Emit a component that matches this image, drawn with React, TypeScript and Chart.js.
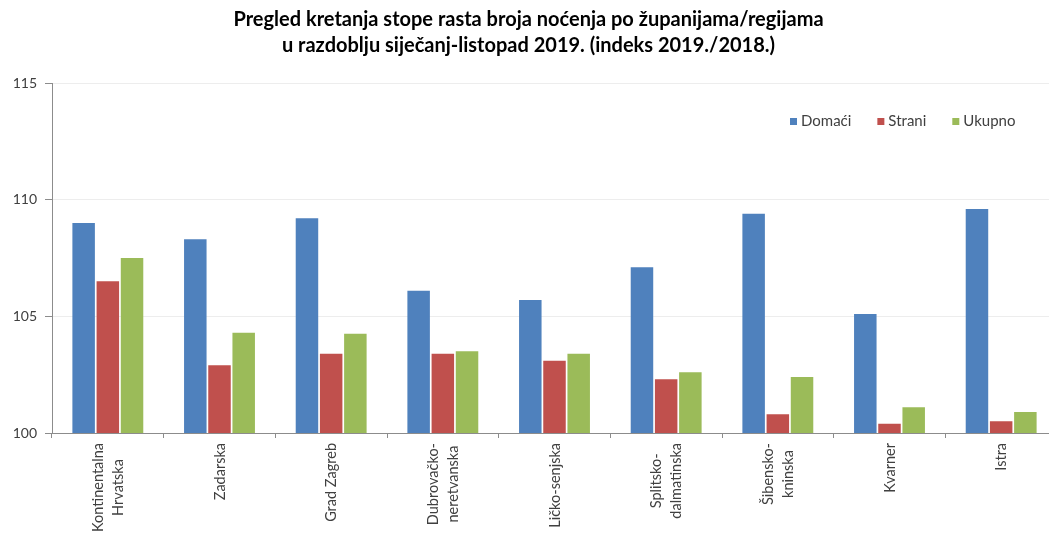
import React, { useEffect, useRef } from "react";
import { Chart, registerables } from "chart.js";

Chart.register(...registerables);

const titleLines = [
  "Pregled kretanja stope rasta broja noćenja po županijama/regijama",
  "u razdoblju siječanj-listopad 2019. (indeks 2019./2018.)",
];

const categories: string[][] = [
  ["Kontinentalna", "Hrvatska"],
  ["Zadarska"],
  ["Grad Zagreb"],
  ["Dubrovačko-", "neretvanska"],
  ["Ličko-senjska"],
  ["Splitsko-", "dalmatinska"],
  ["Šibensko-", "kninska"],
  ["Kvarner"],
  ["Istra"],
];

const seriesNames = ["Domaći", "Strani", "Ukupno"];
const domaci = [109.0, 108.3, 109.2, 106.1, 105.7, 107.1, 109.4, 105.1, 109.6];
const strani = [106.5, 102.9, 103.4, 103.4, 103.1, 102.3, 100.8, 100.4, 100.5];
const ukupno = [107.5, 104.3, 104.25, 103.5, 103.4, 102.6, 102.4, 101.1, 100.9];
const colors = ["#4F81BD", "#C0504D", "#9BBB59"];

const yMin = 100;
const yMax = 115;
const yStep = 5;

const FONT = "Lato, 'Open Sans', sans-serif";
const TEXT = "#404040";
const AXIS = "#8c8c8c";

const xLabelsPlugin = {
  id: "xLabels",
  afterDraw(chart: any) {
    const ctx = chart.ctx;
    const xs = chart.scales.x;
    ctx.save();
    ctx.font = `14.5px ${FONT}`;
    ctx.fillStyle = TEXT;
    ctx.textAlign = "center";
    ctx.textBaseline = "alphabetic";
    const cap = 10;
    const lh = 19.5;
    categories.forEach((lines, i) => {
      const cx = xs.getPixelForValue(i);
      const maxW = Math.max(...lines.map((l) => ctx.measureText(l).width));
      const top = xs.top + 10;
      ctx.save();
      ctx.translate(cx, top + maxW / 2);
      ctx.rotate(-Math.PI / 2);
      const block = cap + (lines.length - 1) * lh;
      lines.forEach((l, j) => {
        const off = -block / 2 + cap + j * lh;
        ctx.fillText(l, 0, off);
      });
      ctx.restore();
    });
    ctx.restore();
  },
};

const legendPlugin = {
  id: "innerLegend",
  afterDraw(chart: any) {
    const ctx = chart.ctx;
    ctx.save();
    ctx.font = `15px ${FONT}`;
    ctx.textBaseline = "middle";
    ctx.textAlign = "left";
    let x = chart.chartArea.left + 738;
    const y = chart.chartArea.top + 38.5;
    chart.data.datasets.forEach((ds: any) => {
      ctx.fillStyle = ds.backgroundColor;
      ctx.fillRect(x, y - 3.5, 7, 7);
      ctx.fillStyle = TEXT;
      ctx.fillText(ds.label, x + 11, y);
      x += 11 + ctx.measureText(ds.label).width + 26;
    });
    ctx.restore();
  },
};

export default function App() {
  const ref = useRef<HTMLCanvasElement | null>(null);

  useEffect(() => {
    const prevMargin = document.body.style.margin;
    document.body.style.margin = "0";
    const chart = new Chart(ref.current as HTMLCanvasElement, {
      type: "bar",
      data: {
        labels: categories.map((c) => c.join(" ")),
        datasets: [domaci, strani, ukupno].map((d, i) => ({
          label: seriesNames[i],
          data: d,
          backgroundColor: colors[i],
          borderWidth: 0,
          barPercentage: 0.93,
          categoryPercentage: 0.65,
        })),
      },
      options: {
        animation: false,
        responsive: true,
        maintainAspectRatio: false,
        layout: { padding: 0 },
        plugins: {
          legend: { display: false },
          tooltip: { enabled: false },
          title: {
            display: true,
            text: titleLines,
            color: "#000",
            font: { family: FONT, size: 20, weight: "bold", lineHeight: 1.3 },
            padding: { top: 7, bottom: 24 },
          },
        },
        scales: {
          x: {
            offset: true,
            grid: {
              display: true,
              drawOnChartArea: false,
              drawTicks: true,
              tickLength: 5,
              tickColor: AXIS,
              offset: true,
            },
            border: { display: true, color: AXIS, width: 1 },
            ticks: { display: false },
            afterFit(scale: any) {
              scale.height = 101;
            },
          },
          y: {
            min: yMin,
            max: yMax,
            ticks: {
              stepSize: yStep,
              color: TEXT,
              font: { family: FONT, size: 14 },
              padding: 8,
            },
            grid: {
              color: "rgba(0,0,0,0.07)",
              tickColor: AXIS,
              tickLength: 7,
            },
            border: { display: true, color: AXIS, width: 1 },
            afterFit(scale: any) {
              scale.width = 52;
            },
          },
        },
      },
      plugins: [xLabelsPlugin, legendPlugin],
    });
    return () => {
      chart.destroy();
      document.body.style.margin = prevMargin;
    };
  }, []);

  return (
    <div
      style={{
        position: "fixed",
        left: 0,
        top: 0,
        width: 1049,
        height: 534,
        overflow: "hidden",
        background: "#fff",
      }}
    >
      <div style={{ position: "relative", width: 1057, height: 534 }}>
        <canvas ref={ref} />
      </div>
    </div>
  );
}
